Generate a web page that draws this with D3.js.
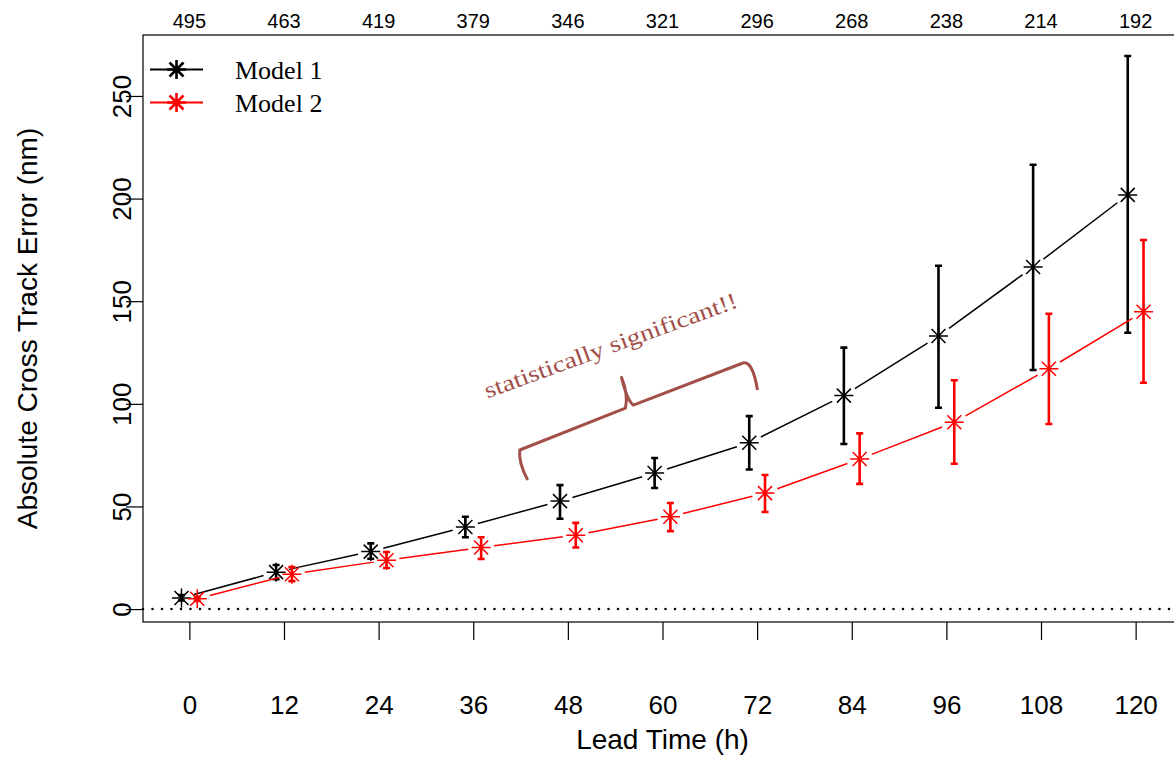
<!DOCTYPE html>
<html>
<head>
<meta charset="utf-8">
<script src="https://cdn.jsdelivr.net/npm/d3@7"></script>
<style>
  body { margin: 0; background: #fff; }
  svg { display: block; }
</style>
</head>
<body>
<svg id="chart" width="1174" height="758"></svg>
<script>
// ---------------- data ----------------
const leadTimes   = [0, 12, 24, 36, 48, 60, 72, 84, 96, 108, 120];
const sampleSizes = [495, 463, 419, 379, 346, 321, 296, 268, 238, 214, 192];
const yTicks      = [0, 50, 100, 150, 200, 250];

const model1Mean  = [5.4, 18, 28, 40, 52.6, 66.3, 81, 104, 133, 166.7, 201.8];
const model1Lower = [4.2, 14.5, 24.5, 35, 44, 59, 68, 80.4, 98.1, 116.5, 134.6];
const model1Upper = [6.8, 21.5, 32, 45, 60.4, 73.6, 94, 127.4, 167.3, 216.5, 269.5];

const model2Mean  = [5, 17, 23.8, 30, 36, 45, 56.5, 73.1, 91, 117.1, 144.9];
const model2Lower = [4.0, 13.6, 20, 24.4, 30, 38, 47.3, 61, 70.8, 90.2, 110.3];
const model2Upper = [6.0, 20.5, 27.8, 35, 42, 51.7, 65.3, 85.6, 111.5, 143.9, 179.8];

const seriesNames = ["Model 1", "Model 2"];
const seriesColors = ["#000000", "#ff0000"];

// annotation brace key points, in data units (lead hours, nm)
const braceLeftFoot  = [42.9, 62.9];
const braceLeftCtrl  = [41.7, 71.6];
const braceLeftTop   = [41.9, 77.5];
const braceMidLeft   = [55.3, 97.9];
const braceMidCtrl1  = [55.7, 104.3];
const braceTip       = [54.8, 112.9];
const braceMidCtrl2  = [55.5, 101.7];
const braceMidRight  = [56.3, 99.4];
const braceRightTop  = [70.2, 119.9];
const braceRightCtrl = [71.4, 121.3];
const braceRightFoot = [72.05, 106.7];
const noteAnchor     = [37.8, 102.6];
const noteText       = "statistically significant!!";

// ---------------- layout ----------------
const svg = d3.select("#chart");
const plotL = 143, plotT = 35, plotR = 1182, plotB = 622;
const x = d3.scaleLinear().domain([-5.88, 125.88]).range([plotL, plotR]);
const y = d3.scaleLinear().domain([-6.3, 279.7]).range([plotB, plotT]);
const xOffset = [-1, 1]; // horizontal dodge (hours) for the two models

const fontSans = "'Liberation Sans', Arial, Helvetica, sans-serif";
const fontSerif = "'Liberation Serif', 'Times New Roman', serif";
const tickFont = 26, titleFont = 28;

// dotted zero line
svg.append("line")
  .attr("x1", plotL).attr("x2", plotR)
  .attr("y1", y(0)).attr("y2", y(0))
  .attr("stroke", "#000").attr("stroke-width", 2.6)
  .attr("stroke-linecap", "round")
  .attr("stroke-dasharray", "0,9.5");

// plot box
svg.append("rect")
  .attr("x", plotL).attr("y", plotT)
  .attr("width", plotR - plotL).attr("height", plotB - plotT)
  .attr("fill", "none").attr("stroke", "#000").attr("stroke-width", 1.2);

// x axis
const xAxis = svg.append("g")
  .attr("transform", `translate(0,${plotB})`)
  .call(d3.axisBottom(x).tickValues(leadTimes).tickSize(18).tickPadding(55.5).tickSizeOuter(0));
xAxis.select(".domain").remove();
xAxis.selectAll(".tick line").attr("stroke-width", 1.2);
xAxis.selectAll("text").attr("font-family", fontSans).attr("font-size", tickFont).attr("fill", "#000");

// y axis
const yAxis = svg.append("g")
  .attr("transform", `translate(${plotL},0)`)
  .call(d3.axisLeft(y).tickValues(yTicks).tickSize(17).tickSizeOuter(0));
yAxis.select(".domain").remove();
yAxis.selectAll(".tick line").attr("stroke-width", 1.2);
yAxis.selectAll("text")
  .attr("font-family", fontSans).attr("font-size", tickFont).attr("fill", "#000")
  .attr("x", 0).attr("y", -12).attr("dy", 0)
  .attr("text-anchor", "middle")
  .attr("transform", "rotate(-90)");

// top sample size labels
svg.append("g").selectAll("text")
  .data(leadTimes)
  .join("text")
  .attr("x", d => x(d))
  .attr("y", 28)
  .attr("text-anchor", "middle")
  .attr("font-family", fontSans).attr("font-size", 20)
  .text((d, i) => sampleSizes[i]);

// axis titles
svg.append("text")
  .attr("x", (plotL + plotR) / 2).attr("y", 749)
  .attr("text-anchor", "middle")
  .attr("font-family", fontSans).attr("font-size", titleFont)
  .text("Lead Time (h)");
svg.append("text")
  .attr("transform", `translate(37,${(plotT + plotB) / 2}) rotate(-90)`)
  .attr("text-anchor", "middle")
  .attr("font-family", fontSans).attr("font-size", titleFont)
  .text("Absolute Cross Track Error (nm)");

// asterisk marker path
function star(cx, cy, r, d) {
  return `M${cx - r},${cy}h${2 * r}M${cx},${cy - r}v${2 * r}` +
         `M${cx - d},${cy - d}l${2 * d},${2 * d}M${cx - d},${cy + d}l${2 * d},${-2 * d}`;
}

const series = [
  { mean: model1Mean, lo: model1Lower, hi: model1Upper },
  { mean: model2Mean, lo: model2Lower, hi: model2Upper }
];

series.forEach((s, k) => {
  const color = seriesColors[k];
  const pts = leadTimes.map((t, i) => [x(t + xOffset[k]), y(s.mean[i])]);
  const g = svg.append("g");
  // type "b" style line segments with gaps around points
  const gap = 13;
  for (let i = 0; i < pts.length - 1; i++) {
    const [x1, y1] = pts[i], [x2, y2] = pts[i + 1];
    const len = Math.hypot(x2 - x1, y2 - y1);
    if (len <= 2 * gap) continue;
    const ux = (x2 - x1) / len, uy = (y2 - y1) / len;
    g.append("line")
      .attr("x1", x1 + ux * gap).attr("y1", y1 + uy * gap)
      .attr("x2", x2 - ux * gap).attr("y2", y2 - uy * gap)
      .attr("stroke", color).attr("stroke-width", 1.5);
  }
  // error bars
  leadTimes.forEach((t, i) => {
    const cx = x(t + xOffset[k]);
    const yl = y(s.lo[i]), yh = y(s.hi[i]);
    const cap = 3.5;
    g.append("path")
      .attr("d", `M${cx},${yl}V${yh}M${cx - cap},${yl}H${cx + cap}M${cx - cap},${yh}H${cx + cap}`)
      .attr("stroke", color).attr("stroke-width", 2.6).attr("fill", "none");
  });
  // markers
  g.selectAll(".pt").data(pts).join("path")
    .attr("d", p => star(p[0], p[1], 9.5, 7))
    .attr("stroke", color).attr("stroke-width", 1.5).attr("fill", "none");
});

// legend
const legY = [69.5, 102.5];
seriesNames.forEach((name, k) => {
  const gy = legY[k];
  svg.append("line").attr("x1", 150).attr("x2", 203).attr("y1", gy).attr("y2", gy)
    .attr("stroke", seriesColors[k]).attr("stroke-width", 2);
  svg.append("path").attr("d", star(176.5, gy, 9.5, 7))
    .attr("stroke", seriesColors[k]).attr("stroke-width", 2.6).attr("fill", "none");
  svg.append("text").attr("x", 235).attr("y", gy + 9)
    .attr("font-family", fontSerif).attr("font-size", 26)
    .text(name);
});

// annotation brace
const P = p => `${x(p[0])},${y(p[1])}`;
const noteColor = "#a24f49";
svg.append("path")
  .attr("d", `M${P(braceLeftFoot)}Q${P(braceLeftCtrl)} ${P(braceLeftTop)}` +
             `L${P(braceMidLeft)}Q${P(braceMidCtrl1)} ${P(braceTip)}` +
             `Q${P(braceMidCtrl2)} ${P(braceMidRight)}` +
             `L${P(braceRightTop)}Q${P(braceRightCtrl)} ${P(braceRightFoot)}`)
  .attr("fill", "none").attr("stroke", noteColor).attr("stroke-width", 3)
  .attr("stroke-linejoin", "round");
svg.append("text")
  .attr("transform", `translate(${x(noteAnchor[0])},${y(noteAnchor[1])}) rotate(-20)`)
  .attr("font-family", fontSerif).attr("font-size", 23)
  .attr("fill", noteColor)
  .attr("textLength", 268).attr("lengthAdjust", "spacingAndGlyphs")
  .text(noteText);
</script>
</body>
</html>
